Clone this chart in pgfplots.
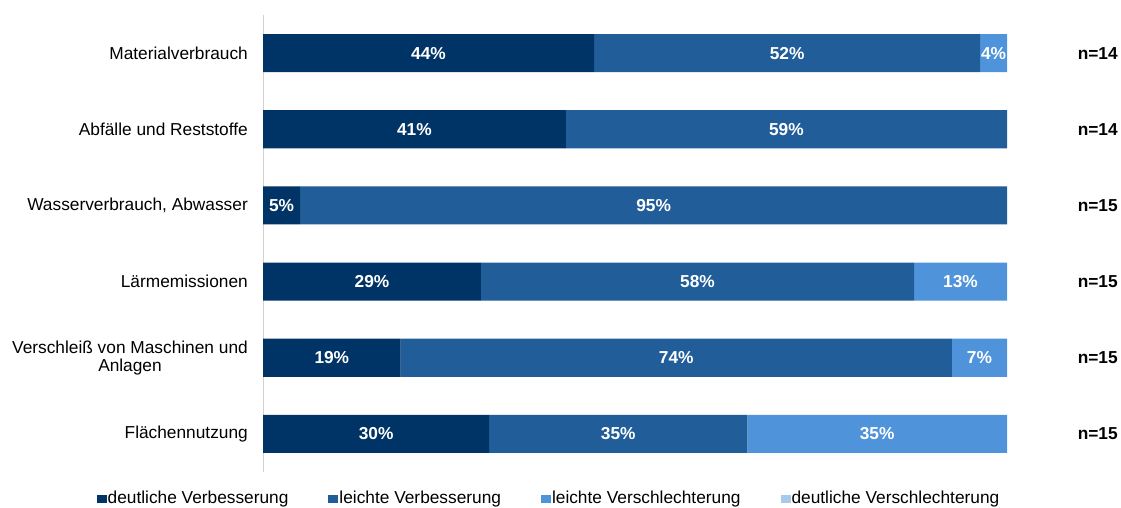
\documentclass[border=0pt]{standalone}
\usepackage{pgfplots}
\pgfplotsset{compat=1.18}
\usepackage{fontspec}
\setmainfont{Liberation Sans}
\definecolor{c1}{RGB}{0,51,102}
\definecolor{c2}{RGB}{33,94,153}
\definecolor{c3}{RGB}{79,148,218}
\definecolor{c4}{RGB}{166,201,236}
\newcommand{\fs}{\fontsize{17.3}{18}\selectfont}
\pgfplotsset{sq legend/.style={legend image code/.code={\fill[##1] (0pt,-4pt) rectangle (10pt,4pt);}}}
\begin{document}
\fs
\begin{tikzpicture}
\path[use as bounding box] (0,0) rectangle (1121pt,507pt);
\begin{axis}[
  at={(263pt,35pt)}, anchor=south west,
  scale only axis, width=744pt, height=457pt,
  xbar stacked, bar width=0.5,
  xmin=0, xmax=100, ymin=-0.5, ymax=5.5, y dir=reverse,
  axis y line*=left, axis x line=none,
  y axis line style={draw=black!18, line width=1pt, -},
  ytick={0,...,5},
  yticklabels={Materialverbrauch, Abfälle und Reststoffe, {Wasserverbrauch, Abwasser}, Lärmemissionen, {Verschleiß von Maschinen und\\Anlagen}, Flächennutzung},
  major tick length=0pt,
  yticklabel style={align=center, font=\fs, inner sep=0pt, xshift=-15pt},
  clip=false,
  point meta=explicit symbolic,
  nodes near coords,
  every node near coord/.append style={font=\fs\bfseries, text=white},
  legend columns=4,
  legend style={at={(0.3837,-0.059)}, anchor=center, draw=none, fill=none,
    font=\fs, cells={anchor=west}, nodes={inner sep=1pt},
    /tikz/every even column/.append style={column sep=39pt}},
]
\addplot[fill=c1, draw=none, sq legend] coordinates {(44.5,0) [44\%] (40.7,1) [41\%] (5.0,2) [5\%] (29.3,3) [29\%] (18.5,4) [19\%] (30.4,5) [30\%]};
\addlegendentry{deutliche Verbesserung}
\addplot[fill=c2, draw=none, sq legend] coordinates {(51.9,0) [52\%] (59.3,1) [59\%] (95.0,2) [95\%] (58.2,3) [58\%] (74.1,4) [74\%] (34.7,5) [35\%]};
\addlegendentry{leichte Verbesserung}
\addplot[fill=c3, draw=none, sq legend] coordinates {(3.6,0) [4\%] (0,1) [] (0,2) [] (12.5,3) [13\%] (7.4,4) [7\%] (34.9,5) [35\%]};
\addlegendentry{leichte Verschlechterung}
\addlegendimage{fill=c4, draw=none, sq legend}
\addlegendentry{deutliche Verschlechterung}
\node[font=\fs\bfseries] at (axis cs:112.2,0) {n=14};
\node[font=\fs\bfseries] at (axis cs:112.2,1) {n=14};
\node[font=\fs\bfseries] at (axis cs:112.2,2) {n=15};
\node[font=\fs\bfseries] at (axis cs:112.2,3) {n=15};
\node[font=\fs\bfseries] at (axis cs:112.2,4) {n=15};
\node[font=\fs\bfseries] at (axis cs:112.2,5) {n=15};
\end{axis}
\end{tikzpicture}
\end{document}
